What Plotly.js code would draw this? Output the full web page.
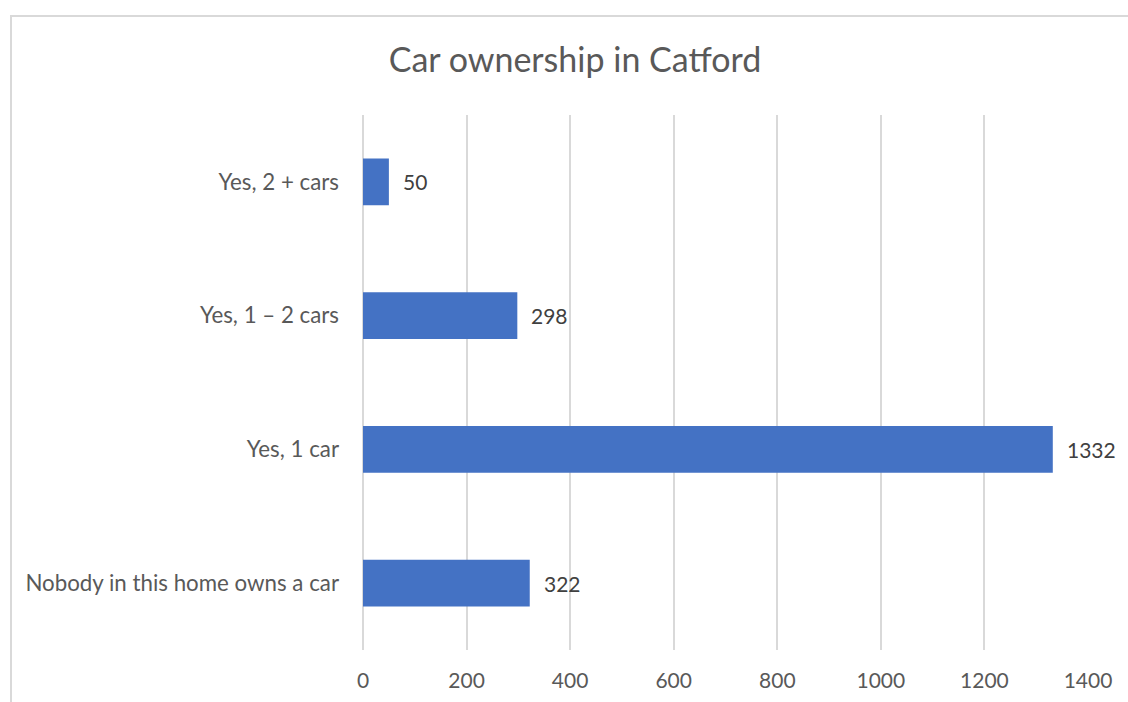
<!DOCTYPE html>
<html>
<head>
<meta charset="utf-8">
<script src="https://cdn.plot.ly/plotly-3.0.1.min.js"></script>
<style>
  html, body { margin: 0; padding: 0; background: #fff; overflow: hidden; }
  #wrap { position: relative; width: 1128px; height: 702px; }
  #chart { width: 1128px; height: 702px; }
  #frame { position: absolute; left: 10px; top: 15px; width: 1200px; height: 800px;
           border: 2px solid #d9d9d9; pointer-events: none; box-sizing: border-box; }
</style>
</head>
<body>
<div id="wrap">
  <div id="chart"></div>
  <div id="frame"></div>
</div>
<script>
const categories = ["Nobody in this home owns a car", "Yes, 1 car", "Yes, 1 \u2013 2 cars", "Yes, 2 + cars"];
const values = [322, 1332, 298, 50];
const xTicks = [0, 200, 400, 600, 800, 1000, 1200, 1400];

const FONT = "Lato, 'Open Sans', sans-serif";

const trace = {
  type: "bar",
  orientation: "h",
  y: categories,
  x: values,
  marker: { color: "#4472C4", line: { width: 0 } },
  hoverinfo: "skip"
};

const annotations = values.map((v, i) => ({
  x: v, y: categories[i], xref: "x", yref: "y",
  text: String(v), showarrow: false, xanchor: "left", yanchor: "middle",
  xshift: 12, font: { family: FONT, size: 21, color: "#404040" }
}));

const layout = {
  width: 1128, height: 702,
  margin: { l: 363, r: 40, t: 115, b: 52 },
  paper_bgcolor: "#ffffff", plot_bgcolor: "#ffffff",
  showlegend: false,
  bargap: 0.65,
  title: {
    text: "Car ownership in Catford",
    font: { family: FONT, size: 34, color: "#595959" },
    x: 575 / 1128, xanchor: "center", xref: "container",
    y: 1 - 60 / 702, yanchor: "middle", yref: "container"
  },
  xaxis: {
    range: [0, 1400], tickvals: xTicks, ticktext: xTicks.map(String),
    showgrid: true, gridcolor: "#d9d9d9", gridwidth: 2,
    zeroline: true, zerolinecolor: "#d9d9d9", zerolinewidth: 2,
    showline: false, ticks: "",
    ticklabelstandoff: 16,
    tickfont: { family: FONT, size: 21, color: "#595959" },
    fixedrange: true
  },
  yaxis: {
    type: "category", categoryorder: "array", categoryarray: categories,
    showgrid: false, zeroline: false, showline: false, ticks: "",
    ticklabelstandoff: 23,
    tickfont: { family: FONT, size: 22.3, color: "#595959" },
    fixedrange: true
  },
  annotations: annotations
};

Plotly.newPlot("chart", [trace], layout, { staticPlot: true, displayModeBar: false });
</script>
</body>
</html>
